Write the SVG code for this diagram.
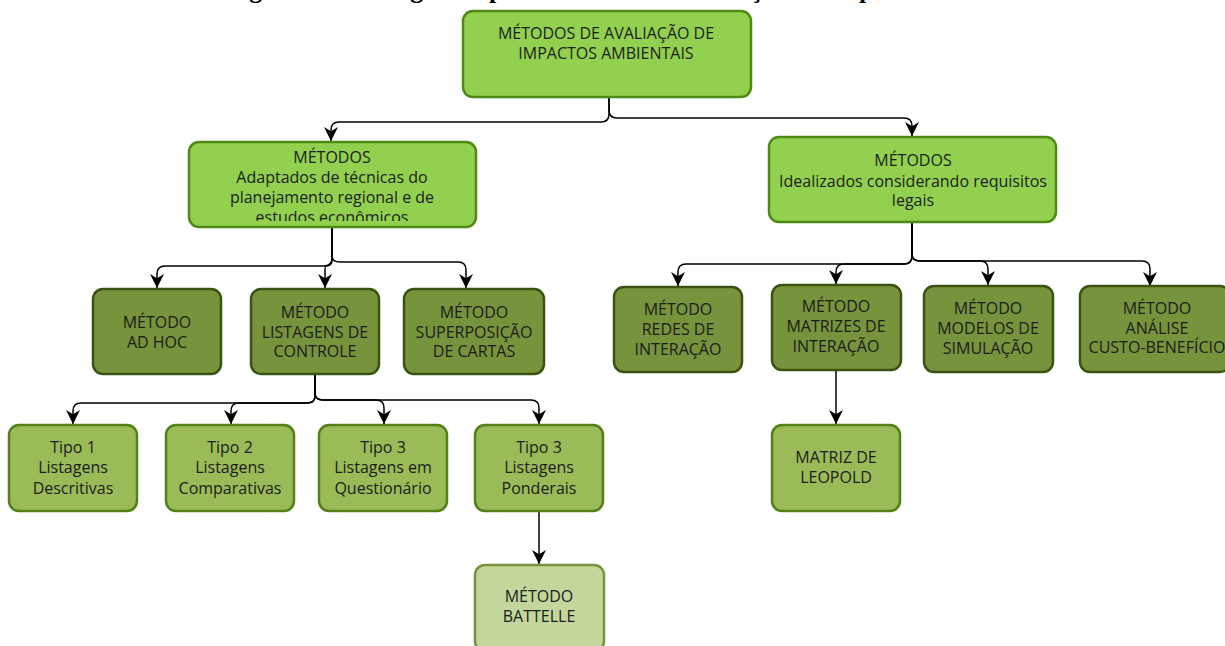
<svg xmlns="http://www.w3.org/2000/svg" width="1225" height="646" viewBox="0 0 1225 646">
  <style>
    .t { font-family: "Open Sans", "Noto Sans", "DejaVu Sans", sans-serif; font-size: 16px; fill: #1c1c1c; text-anchor: middle; }
    .title { font-family: "Liberation Serif", serif; font-size: 26px; font-weight: bold; fill: #000; text-anchor: middle; }
    .lvl0 { fill: #92d050; stroke: #4f8a14; stroke-width: 2.5; }
    .lvl2 { fill: #77933c; stroke: #3a5312; stroke-width: 2.5; }
    .lvl3 { fill: #9bbb59; stroke: #54801a; stroke-width: 2.5; }
    .lvl4 { fill: #c3d69b; stroke: #77933c; stroke-width: 2.5; }
    .edge { fill: none; stroke: #000; stroke-width: 1.5; marker-end: url(#arr); }
  </style>
  <defs>
    <marker id="arr" viewBox="0 0 10 10" refX="10" refY="5" markerWidth="14" markerHeight="14" markerUnits="userSpaceOnUse" orient="auto">
      <path d="M0,0 L10,5 L0,10 L3,5 z" fill="#000"/>
    </marker>
    <clipPath id="clipAdapt"><rect x="189" y="142" width="287" height="79"/></clipPath>
  </defs>
  <rect width="1225" height="646" fill="#fff"/>

  <!-- caption, mostly above the page edge -->
  <text class="title" x="644" y="-2">Figura 3 – Fluxograma para Métodos de Avaliação de Impactos Ambientais</text>

  <g id="connectors">
    <path class="edge" d="M609,97 V114 Q609,122 601,122 H339 Q331,122 331,130 V141"/>
    <path class="edge" d="M609,97 V110 Q609,118 617,118 H904 Q912,118 912,126 V136"/>

    <path class="edge" d="M332,227 V258 Q332,266 324,266 H165 Q157,266 157,274 V288"/>
    <path class="edge" d="M332,227 V260 Q332,266 326,266 Q325,266 325,272 V288"/>
    <path class="edge" d="M332,227 V256 Q332,262 340,262 H458 Q466,262 466,270 V288"/>

    <path class="edge" d="M912,222 V256 Q912,264 904,264 H686 Q678,264 678,272 V286"/>
    <path class="edge" d="M912,222 V256 Q912,264 904,264 H844 Q836,264 836,272 V284"/>
    <path class="edge" d="M912,222 V254 Q912,261 920,261 H980 Q988,261 988,269 V285"/>
    <path class="edge" d="M912,222 V254 Q912,261 920,261 H1142 Q1150,261 1150,269 V286"/>

    <path class="edge" d="M836,370 V424"/>

    <path class="edge" d="M315,374 V396 Q315,403 307,403 H81 Q73,403 73,411 V424"/>
    <path class="edge" d="M315,374 V396 Q315,403 307,403 H239 Q231,403 231,411 V424"/>
    <path class="edge" d="M315,374 V393 Q315,400 323,400 H376 Q384,400 384,408 V424"/>
    <path class="edge" d="M315,374 V393 Q315,400 323,400 H531 Q539,400 539,408 V424"/>

    <path class="edge" d="M539,511 V564"/>
  </g>

  <g id="root">
    <rect class="lvl0" x="463" y="11" width="288" height="86" rx="10"/>
    <text class="t" x="606" y="39">MÉTODOS DE AVALIAÇÃO DE</text>
    <text class="t" x="606" y="59">IMPACTOS AMBIENTAIS</text>
  </g>

  <g id="adaptados">
    <rect class="lvl0" x="189" y="142" width="287" height="85" rx="10"/>
    <g clip-path="url(#clipAdapt)">
      <text class="t" x="332" y="163">MÉTODOS</text>
      <text class="t" x="332" y="183">Adaptados de técnicas do</text>
      <text class="t" x="332" y="203">planejamento regional e de</text>
      <text class="t" x="332" y="223">estudos econômicos</text>
    </g>
  </g>

  <g id="idealizados">
    <rect class="lvl0" x="769" y="137" width="287" height="85" rx="10"/>
    <text class="t" x="913" y="166">MÉTODOS</text>
    <text class="t" x="913" y="187">Idealizados considerando requisitos</text>
    <text class="t" x="913" y="206">legais</text>
  </g>

  <g id="adhoc">
    <rect class="lvl2" x="93" y="289" width="128" height="85" rx="10"/>
    <text class="t" x="157" y="328">MÉTODO</text>
    <text class="t" x="157" y="348">AD HOC</text>
  </g>

  <g id="listagens">
    <rect class="lvl2" x="251" y="289" width="128" height="85" rx="10"/>
    <text class="t" x="315" y="318">MÉTODO</text>
    <text class="t" x="315" y="338">LISTAGENS DE</text>
    <text class="t" x="315" y="357">CONTROLE</text>
  </g>

  <g id="superposicao">
    <rect class="lvl2" x="404" y="289" width="140" height="85" rx="10"/>
    <text class="t" x="474" y="318">MÉTODO</text>
    <text class="t" x="474" y="338">SUPERPOSIÇÃO</text>
    <text class="t" x="474" y="357">DE CARTAS</text>
  </g>

  <g id="redes">
    <rect class="lvl2" x="614" y="287" width="128" height="85" rx="10"/>
    <text class="t" x="678" y="315">MÉTODO</text>
    <text class="t" x="678" y="335">REDES DE</text>
    <text class="t" x="678" y="355">INTERAÇÃO</text>
  </g>

  <g id="matrizes">
    <rect class="lvl2" x="772" y="285" width="129" height="85" rx="10"/>
    <text class="t" x="836" y="312">MÉTODO</text>
    <text class="t" x="836" y="332">MATRIZES DE</text>
    <text class="t" x="836" y="352">INTERAÇÃO</text>
  </g>

  <g id="modelos">
    <rect class="lvl2" x="924" y="286" width="129" height="86" rx="10"/>
    <text class="t" x="988" y="314">MÉTODO</text>
    <text class="t" x="988" y="334">MODELOS DE</text>
    <text class="t" x="988" y="354">SIMULAÇÃO</text>
  </g>

  <g id="analise">
    <rect class="lvl2" x="1080" y="286" width="150" height="86" rx="10"/>
    <text class="t" x="1157" y="314">MÉTODO</text>
    <text class="t" x="1157" y="334">ANÁLISE</text>
    <text class="t" x="1157" y="353">CUSTO-BENEFÍCIO</text>
  </g>

  <g id="tipo1">
    <rect class="lvl3" x="9" y="425" width="128" height="86" rx="10"/>
    <text class="t" x="73" y="453">Tipo 1</text>
    <text class="t" x="73" y="473">Listagens</text>
    <text class="t" x="73" y="494">Descritivas</text>
  </g>

  <g id="tipo2">
    <rect class="lvl3" x="166" y="425" width="128" height="86" rx="10"/>
    <text class="t" x="230" y="453">Tipo 2</text>
    <text class="t" x="230" y="473">Listagens</text>
    <text class="t" x="230" y="494">Comparativas</text>
  </g>

  <g id="tipo3q">
    <rect class="lvl3" x="319" y="425" width="128" height="86" rx="10"/>
    <text class="t" x="383" y="453">Tipo 3</text>
    <text class="t" x="383" y="473">Listagens em</text>
    <text class="t" x="383" y="494">Questionário</text>
  </g>

  <g id="tipo3p">
    <rect class="lvl3" x="475" y="425" width="128" height="86" rx="10"/>
    <text class="t" x="539" y="453">Tipo 3</text>
    <text class="t" x="539" y="473">Listagens</text>
    <text class="t" x="539" y="494">Ponderais</text>
  </g>

  <g id="leopold">
    <rect class="lvl3" x="772" y="425" width="128" height="86" rx="10"/>
    <text class="t" x="836" y="463">MATRIZ DE</text>
    <text class="t" x="836" y="483">LEOPOLD</text>
  </g>

  <g id="battelle">
    <rect class="lvl4" x="475" y="565" width="129" height="86" rx="10"/>
    <text class="t" x="539" y="602">MÉTODO</text>
    <text class="t" x="539" y="622">BATTELLE</text>
  </g>
</svg>
